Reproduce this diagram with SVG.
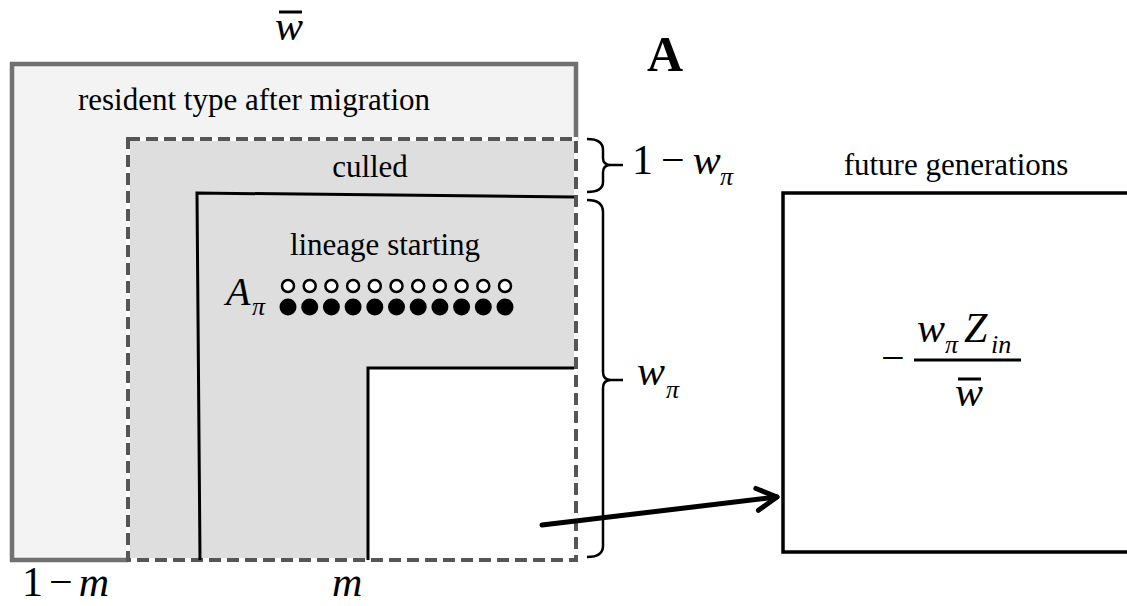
<svg xmlns="http://www.w3.org/2000/svg" width="1127" height="606" viewBox="0 0 1127 606" font-family="Liberation Serif, Times New Roman, DejaVu Serif, serif">
<style>
text{font-family:'Liberation Serif','DejaVu Serif',serif}
.lbl{font-size:31px;fill:#000}
.math{font-size:42px;fill:#000}
.it{font-style:italic}
.sub{font-size:26px;font-style:italic;fill:#000}
.brace{fill:none;stroke:#000;stroke-width:2.5;stroke-linejoin:round}
.blk{fill:none;stroke:#000;stroke-width:3}
.bar{stroke:#000;stroke-width:3}
</style>
<defs>
<marker id="chev" markerUnits="userSpaceOnUse" markerWidth="30" markerHeight="30" viewBox="-25 -15 30 30" refX="0" refY="0" orient="auto">
<path d="M-20,-11 L0,0 L-20,11" fill="none" stroke="#000" stroke-width="5" stroke-linecap="round" stroke-linejoin="round"/>
</marker>
</defs>
<rect width="1127" height="606" fill="#fff"/>
<text x="275" y="40" class="math it" font-family="Liberation Serif">w</text>
<line x1="279" y1="12" x2="302" y2="12" class="bar"/>
<text x="665" y="71" text-anchor="middle" class="math" font-family="Liberation Serif" style="font-size:50px;font-weight:bold">A</text>
<g id="resident">
<rect x="12" y="64" width="564" height="496" fill="#f3f3f3"/>
<path d="M128,560 L12,560 L12,64 L576,64 L576,139" fill="none" stroke="#707070" stroke-width="4.5"/>
<text x="254" y="110" text-anchor="middle" class="lbl" font-family="Liberation Serif">resident type after migration</text>
</g>
<g id="culled">
<rect x="128" y="139" width="448" height="421" fill="#dedede" stroke="#fff" stroke-width="4"/>
<rect x="128" y="139" width="448" height="421" fill="none" stroke="#555" stroke-width="4" stroke-dasharray="12,6"/>
<text x="370" y="177" text-anchor="middle" class="lbl" font-family="Liberation Serif">culled</text>
</g>
<g id="lineage">
<path d="M200,560 L197,193 L574,197" class="blk"/>
<text x="385" y="255" text-anchor="middle" class="lbl" font-family="Liberation Serif">lineage starting</text>
<text x="226" y="305" class="math it" font-family="Liberation Serif" style="font-size:40px">A</text>
<text x="252" y="315" class="sub" font-family="Liberation Serif">π</text>
<g id="open-circles" fill="#fff" stroke="#000" stroke-width="2.5">
<circle cx="288" cy="286" r="6"/><circle cx="309.7" cy="286" r="6"/><circle cx="331.4" cy="286" r="6"/><circle cx="353.1" cy="286" r="6"/><circle cx="374.8" cy="286" r="6"/><circle cx="396.5" cy="286" r="6"/><circle cx="418.2" cy="286" r="6"/><circle cx="439.9" cy="286" r="6"/><circle cx="461.6" cy="286" r="6"/><circle cx="483.3" cy="286" r="6"/><circle cx="505" cy="286" r="6"/>
</g>
<g id="filled-circles" fill="#000">
<circle cx="288" cy="307" r="8.5"/><circle cx="309.7" cy="307" r="8.5"/><circle cx="331.4" cy="307" r="8.5"/><circle cx="353.1" cy="307" r="8.5"/><circle cx="374.8" cy="307" r="8.5"/><circle cx="396.5" cy="307" r="8.5"/><circle cx="418.2" cy="307" r="8.5"/><circle cx="439.9" cy="307" r="8.5"/><circle cx="461.6" cy="307" r="8.5"/><circle cx="483.3" cy="307" r="8.5"/><circle cx="505" cy="307" r="8.5"/>
</g>
</g>
<g id="remaining">
<rect x="368" y="368" width="206" height="190" fill="#fff"/>
<path d="M368,560 L368,368 L574,368" class="blk"/>
</g>
<g id="brace-culled">
<path d="M587,139 Q603,139 603,150 L603,158 Q603,165 611,165 L623,165 M611,165 Q603,165 603,172 L603,182 Q603,192 587,192" class="brace"/>
<text x="632" y="174" class="math" font-family="Liberation Serif">1<tspan dx="8">−</tspan><tspan dx="8" class="it">w</tspan></text>
<text x="720" y="185" class="sub" font-family="Liberation Serif">π</text>
</g>
<g id="brace-lineage">
<path d="M587,200 Q603,200 603,212 L603,372 Q603,380 611,380 L623,380 M611,380 Q603,380 603,388 L603,546 Q603,557 587,557" class="brace"/>
<text x="637" y="385" class="math it" font-family="Liberation Serif">w</text>
<text x="666" y="398" class="sub" font-family="Liberation Serif">π</text>
</g>
<text x="22" y="596" class="math" font-family="Liberation Serif">1<tspan dx="6">−</tspan><tspan dx="6" class="it">m</tspan></text>
<text x="332" y="596" class="math it" font-family="Liberation Serif">m</text>
<g id="future">
<rect x="783" y="193" width="360" height="359" fill="none" stroke="#000" stroke-width="3.5"/>
<text x="956" y="175" text-anchor="middle" class="lbl" font-family="Liberation Serif">future generations</text>
<text x="881" y="372" class="math" font-family="Liberation Serif">−</text>
<text x="917" y="342" class="math it" font-family="Liberation Serif">w</text>
<text x="945" y="353" class="sub" font-family="Liberation Serif">π</text>
<text x="964" y="342" class="math it" font-family="Liberation Serif">Z</text>
<text x="991" y="353" class="sub" font-family="Liberation Serif">in</text>
<line x1="914" y1="360" x2="1021" y2="360" class="bar"/>
<text x="955" y="406" class="math it" font-family="Liberation Serif">w</text>
<line x1="958" y1="379" x2="981" y2="379" class="bar"/>
</g>
<g id="connectors">
<line x1="542" y1="525" x2="777" y2="497" stroke="#000" stroke-width="5" stroke-linecap="round" marker-end="url(#chev)"/>
</g>
</svg>
